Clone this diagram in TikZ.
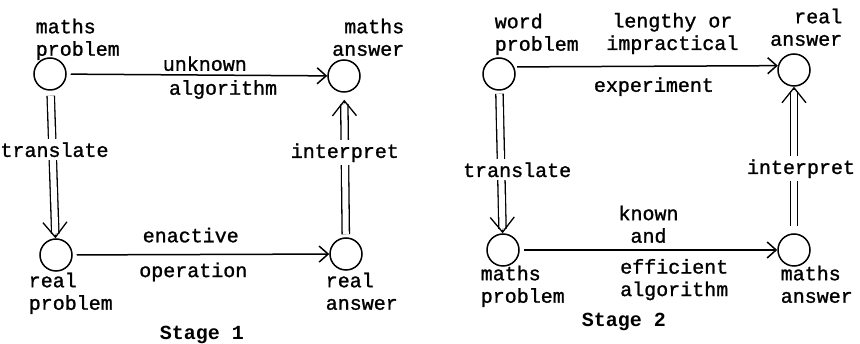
\documentclass[tikz,border=0pt]{standalone}
\usepackage{fontspec}
\setmainfont{Liberation Mono}[UprightFeatures={FakeBold=1.2}]
\usetikzlibrary{arrows.meta}

\begin{document}
\begin{tikzpicture}[x=1pt,y=-1pt,line width=1.5pt,
  font=\fontsize{20}{22.5}\selectfont,
  state/.style={draw,circle,minimum size=32pt,inner sep=0pt},
  lbl/.style={inner sep=0pt},
  move/.style={-{Straight Barb[length=9pt,width=16pt]}},
  dbl/.style={double,double distance=6pt,line width=1.3pt},
  head/.style={line width=1.3pt,-{Straight Barb[length=15pt,width=24pt]}},
  cut/.style={fill=white,inner sep=3pt}]
\useasboundingbox (0,0) rectangle (860,344);
% stage 1
\node[state] (mp1) at (50,74) {};
\node[state] (ma1) at (344,76) {};
\node[state] (rp1) at (56,255) {};
\node[state] (ra1) at (346,254) {};
\node[lbl,anchor=north west,align=left] (mp1l) at (35,18) {maths\\problem};
\node[lbl,anchor=north east,align=right] (ma1l) at (405,18) {maths\\answer};
\node[lbl,anchor=north west,align=left] (rp1l) at (28,272) {real\\problem};
\node[lbl,anchor=north west,align=left] (ra1l) at (325,272) {real\\answer};
\draw[move,shorten <=4pt] (mp1) -- node[pos=0.53,above] (unk) {unknown}
  node[pos=0.6,below=1pt] (alg1) {algorithm} (ma1);
\draw[move,shorten <=4pt] (rp1) -- node[pos=0.46,above=8pt] (ena) {enactive}
  node[pos=0.47,below=4pt] (ope) {operation} (ra1);
\draw[dbl,shorten <=5pt,shorten >=4.5pt] (mp1) -- node[cut,pos=0.4,xshift=2pt] (tr1) {translate} (rp1);
\draw[head,shorten <=144pt] (mp1) -- (rp1);
\draw[dbl,shorten <=3pt,shorten >=11.5pt] (ra1) -- node[cut,pos=0.585] (in1) {interpret} (ma1);
\draw[head,shorten <=134pt,shorten >=7pt] (ra1) -- (ma1);
\node[anchor=base,font=\fontsize{20}{22}\selectfont\bfseries] (st1) at (202,340) {Stage 1};
% stage 2
\node[state] (wp2) at (499,74) {};
\node[state] (ra2) at (794,70) {};
\node[state] (mp2) at (503,250) {};
\node[state] (ma2) at (794,250) {};
\node[lbl,anchor=north west,align=left] (wp2l) at (494,13) {word\\problem};
\node[lbl,anchor=north east,align=right] (ra2l) at (843,8) {real\\answer};
\node[lbl,anchor=north west,align=left] (mp2l) at (480,265) {maths\\problem};
\node[lbl,anchor=north west,align=left] (ma2l) at (780,265) {maths\\answer};
\draw[move,shorten <=3pt] (wp2.25) -- node[pos=0.6,above=8pt,align=center] (len) {lengthy or\\impractical}
  node[pos=0.53,below=7pt] (exp) {experiment} (ra2.165);
\draw[move,shorten <=4pt] (mp2) -- node[pos=0.5,above=3pt,align=center] (kno) {known\\and}
  node[pos=0.6,below=5pt,align=center] (eff) {efficient\\algorithm} (ma2);
\draw[dbl,shorten <=3pt,shorten >=4.5pt] (wp2) -- node[cut,pos=0.555,xshift=16pt] (tr2) {translate} (mp2);
\draw[head,shorten <=139pt] (wp2) -- (mp2);
\draw[dbl,shorten <=7pt,shorten >=4.5pt] (ma2) -- node[cut,pos=0.44,xshift=7pt] (in2) {interpret} (ra2);
\draw[head,shorten <=143pt] (ma2) -- (ra2);
\node[anchor=base,font=\fontsize{20}{22}\selectfont\bfseries] (st2) at (624,327) {Stage 2};
\end{tikzpicture}
\end{document}
